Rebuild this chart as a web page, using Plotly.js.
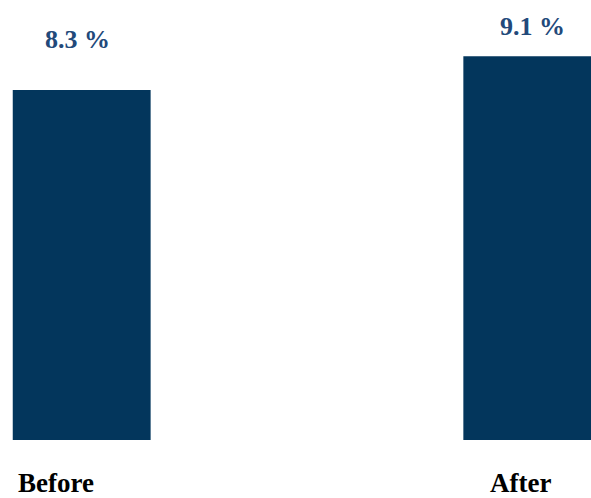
<!DOCTYPE html>
<html>
<head>
<meta charset="utf-8">
<script src="https://cdn.plot.ly/plotly-3.0.1.min.js"></script>
<style>
  html, body { margin: 0; padding: 0; background: #ffffff; }
  #chart { width: 591px; height: 498px; }
</style>
</head>
<body>
<div id="chart"></div>
<script>
// Share before and after, in percent
const categories = ["Before", "After"];
const shares = [8.3, 9.1];
const valueLabels = ["8.3 %", "9.1 %"];

const barColor = "#03365c";
const valueColor = "#22497a";
const fontFamily = "'Liberation Serif', 'Times New Roman', serif";

// Per-label nudges (pixels)
const valueShiftX = [-4, 0];
const valueShiftY = [34, 13];
const catShiftX = [-26, -12];

const annotations = [];
categories.forEach((c, i) => {
  annotations.push({
    x: c, xref: "x",
    y: shares[i], yref: "y",
    yanchor: "bottom",
    yshift: valueShiftY[i],
    xshift: valueShiftX[i],
    text: "<b>" + valueLabels[i] + "</b>",
    showarrow: false,
    font: { family: fontFamily, size: 26, color: valueColor }
  });
  annotations.push({
    x: c, xref: "x",
    y: 0, yref: "paper",
    yanchor: "top",
    yshift: -26,
    xshift: catShiftX[i],
    text: "<b>" + c + "</b>",
    showarrow: false,
    font: { family: fontFamily, size: 27, color: "#000000" }
  });
});

const trace = {
  type: "bar",
  x: categories,
  y: shares,
  marker: { color: barColor, line: { width: 0 } },
  hoverinfo: "skip"
};

const layout = {
  width: 591,
  height: 498,
  margin: { l: 0, r: 0, t: 0, b: 58, pad: 0 },
  paper_bgcolor: "#ffffff",
  plot_bgcolor: "#ffffff",
  bargap: 0.694,
  showlegend: false,
  xaxis: {
    type: "category",
    range: [-0.1813, 1.1303],
    showticklabels: false,
    showgrid: false,
    zeroline: false,
    showline: false,
    ticks: ""
  },
  yaxis: {
    range: [0, 10.437],
    showticklabels: false,
    showgrid: false,
    zeroline: false,
    showline: false,
    ticks: ""
  },
  annotations: annotations
};

Plotly.newPlot("chart", [trace], layout, { staticPlot: true, displayModeBar: false });
</script>
</body>
</html>
